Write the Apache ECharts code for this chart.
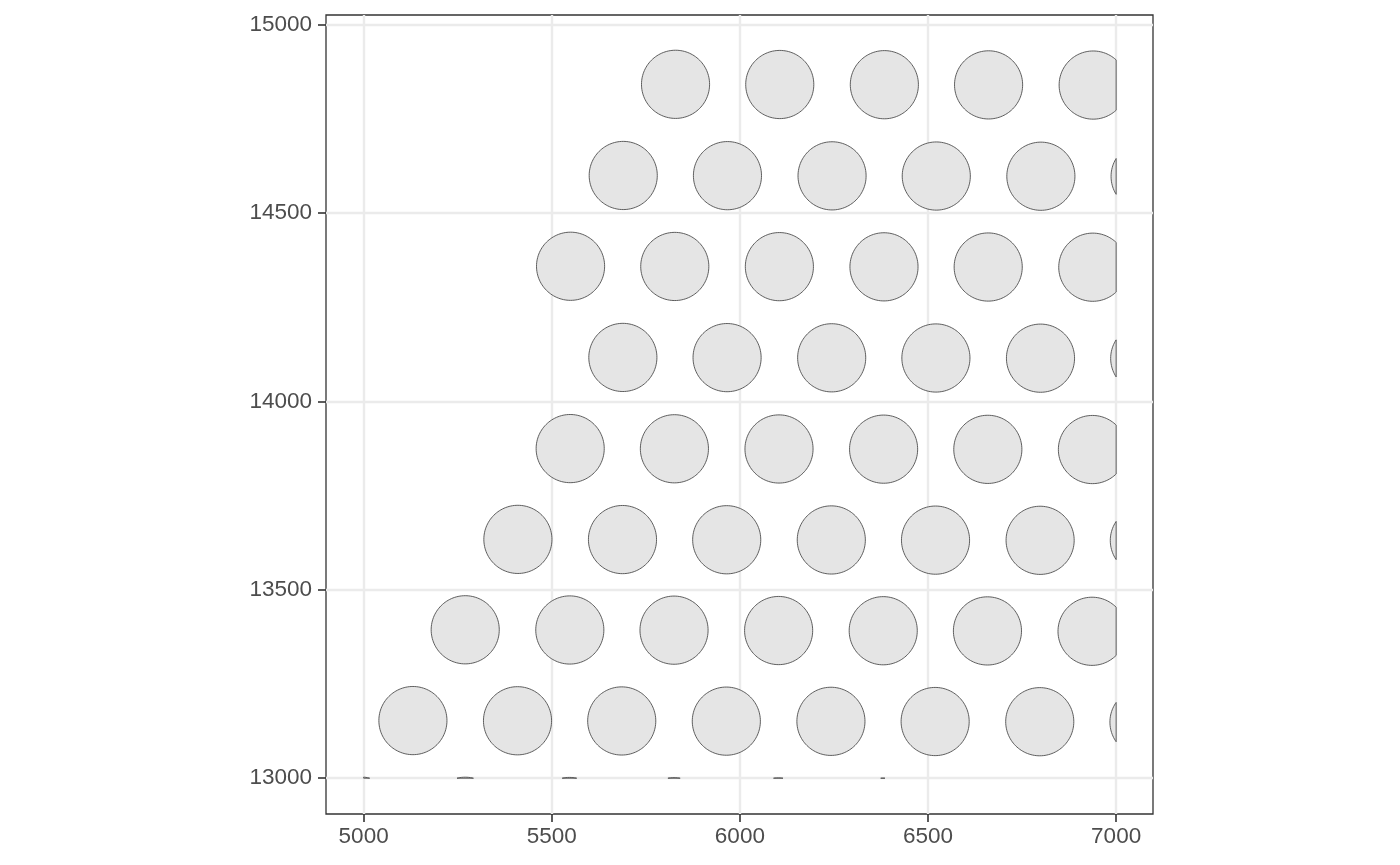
<!DOCTYPE html>
<html>
<head>
<meta charset="utf-8">
<script src="https://cdn.jsdelivr.net/npm/echarts@6/dist/echarts.min.js"></script>
<style>
  html, body { margin: 0; padding: 0; background: #ffffff; }
  #chart { width: 1400px; height: 865px; }
</style>
</head>
<body>
<div id="chart"></div>
<script>
// ---- data ----
// spot centres, row by row from the top
const spotX = [
  5829, 6106, 6384, 6661, 6939,                 // row 14841
  5690, 5967, 6245, 6522, 6800, 7077,           // row 14599
  5550, 5827, 6105, 6383, 6660, 6938,           // row 14358
  5689, 5966, 6244, 6521, 6799, 7076,           // row 14116
  5549, 5826, 6104, 6382, 6659, 6937,           // row 13874
  5410, 5688, 5965, 6243, 6520, 6798, 7075,     // row 13632
  5270, 5548, 5825, 6103, 6381, 6658, 6936,     // row 13392
  5131, 5409, 5686, 5964, 6242, 6519, 6797, 7074, // row 13151
  4992, 5270, 5547, 5825, 6102, 6380            // row 12911 (mostly cut off)
];
const spotY = [
  14842, 14841.5, 14841, 14840.5, 14840,
  14600, 14599.5, 14599, 14598.5, 14598, 14597.5,
  14359, 14358.5, 14358, 14357.5, 14357, 14356.5,
  14117, 14116.5, 14116, 14115.5, 14115, 14114.5,
  13875, 13874.5, 13874, 13873.5, 13873, 13872.5,
  13634, 13633.5, 13633, 13632.5, 13632, 13631.5, 13631,
  13394, 13393.5, 13393, 13392, 13391.5, 13391, 13390,
  13153, 13152.5, 13152, 13151.5, 13151, 13150.5, 13150, 13149,
  12912.8, 12912.2, 12911.6, 12911.0, 12910.4, 12909.7
];
const spotRadius = 90.5;

// visible window of the spots (data units)
const clipXMin = 5000, clipXMax = 7000, clipYMin = 13000;

const xTicks = [5000, 5500, 6000, 6500, 7000];
const yTicks = [13000, 13500, 14000, 14500, 15000];

const spots = spotX.map((x, i) => [x, spotY[i]]);

// ---- helpers ----
function clipEdge(pts, axis, bound, keepLess) {
  const out = [];
  const inside = p => keepLess ? p[axis] <= bound : p[axis] >= bound;
  for (let i = 0; i < pts.length; i++) {
    const cur = pts[i], prev = pts[(i + pts.length - 1) % pts.length];
    const cIn = inside(cur), pIn = inside(prev);
    if (cIn !== pIn) {
      const t = (bound - prev[axis]) / (cur[axis] - prev[axis]);
      const ip = [prev[0] + t * (cur[0] - prev[0]), prev[1] + t * (cur[1] - prev[1])];
      ip[axis] = bound;
      out.push(ip);
    }
    if (cIn) out.push(cur);
  }
  return out;
}

function renderSpot(params, api) {
  const cx = api.value(0), cy = api.value(1);
  const n = 120;
  let pts = [];
  for (let i = 0; i < n; i++) {
    const a = 2 * Math.PI * i / n;
    pts.push([cx + spotRadius * Math.cos(a), cy + spotRadius * Math.sin(a)]);
  }
  pts = clipEdge(pts, 0, clipXMax, true);
  if (pts.length) pts = clipEdge(pts, 0, clipXMin, false);
  if (pts.length) pts = clipEdge(pts, 1, clipYMin, false);
  if (pts.length < 3) return null;
  return {
    type: 'polygon',
    shape: { points: pts.map(p => api.coord(p)) },
    style: { fill: '#E5E5E5', stroke: '#4D4D4D', lineWidth: 0.9 }
  };
}

const labelFont = {
  fontFamily: 'Liberation Sans, Arial, sans-serif', fontSize: 22.5, color: '#4D4D4D',
  formatter: v => String(v)
};

const chart = echarts.init(document.getElementById('chart'), null, { renderer: 'canvas' });
chart.setOption({
  animation: false,
  backgroundColor: '#ffffff',
  grid: {
    left: 326, right: 247, top: 15, bottom: 51,
    show: true, borderColor: '#333333', borderWidth: 1.3, backgroundColor: 'transparent'
  },
  xAxis: {
    type: 'value', min: 4900, max: 7098,
    axisLine: { show: false },
    axisTick: { show: true, length: 8, lineStyle: { color: '#333333', width: 1.6 }, customValues: xTicks },
    axisLabel: Object.assign({ margin: 11, customValues: xTicks }, labelFont),
    splitLine: { show: true, lineStyle: { color: '#EBEBEB', width: 2.4 } }
  },
  yAxis: {
    type: 'value', min: 12905, max: 15026,
    axisLine: { show: false },
    axisTick: { show: true, length: 8, lineStyle: { color: '#333333', width: 1.6 }, customValues: yTicks },
    axisLabel: Object.assign({ margin: 14, customValues: yTicks }, labelFont),
    splitLine: { show: true, lineStyle: { color: '#EBEBEB', width: 2.4 } }
  },
  series: [{
    type: 'custom',
    coordinateSystem: 'cartesian2d',
    renderItem: renderSpot,
    data: spots,
    clip: false,
    encode: { x: 0, y: 1 }
  }]
});
</script>
</body>
</html>
